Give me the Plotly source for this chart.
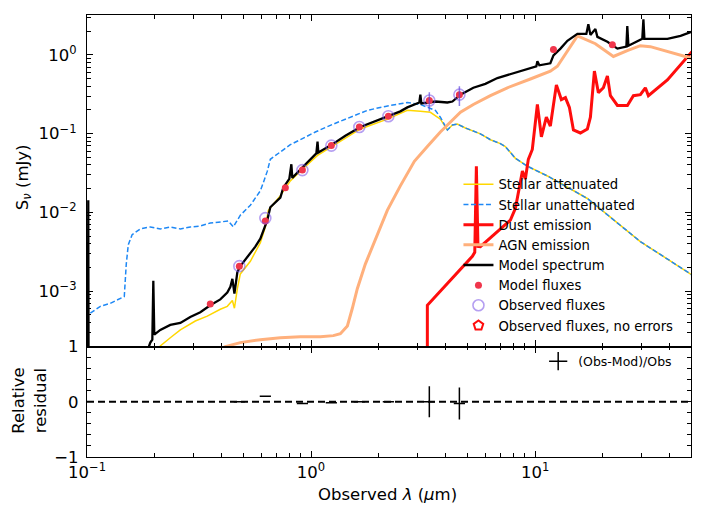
import plotly.graph_objects as go
from plotly.subplots import make_subplots

# ---------------- data (wavelength in micron, flux in mJy) ----------------
lam_unatt = [0.1035, 0.1147, 0.127, 0.138, 0.1467, 0.1497, 0.1529, 0.159, 0.173, 0.1917,
             0.2124, 0.2354, 0.261, 0.289, 0.3205, 0.355, 0.3936, 0.4273, 0.450, 0.4835,
             0.536, 0.594, 0.612, 0.638, 0.658, 0.7295, 0.8083, 0.896, 1.045, 1.258,
             1.497, 1.784, 2.146, 2.691, 3.076, 3.589, 3.778, 4.06, 4.276, 4.499,
             4.886, 5.70, 6.32, 7.0, 7.37, 8.17, 9.24, 11.35, 17.12, 29.5, 52.0]
f_unatt = [5.24e-4, 6.39e-4, 6.97e-4, 7.82e-4, 8.53e-4, 2.20e-3, 3.89e-3, 5.19e-3, 6.16e-3, 6.52e-3,
           6.16e-3, 6.52e-3, 6.16e-3, 6.52e-3, 6.71e-3, 7.31e-3, 7.53e-3, 7.75e-3, 6.52e-3, 9.2e-3,
           1.23e-2, 1.88e-2, 2.37e-2, 3.34e-2, 4.72e-2, 5.93e-2, 7.26e-2, 8.38e-2, 0.105, 0.1324,
           0.1618, 0.1977, 0.222, 0.249, 0.235, 0.1977, 0.1618, 0.1115, 0.1288, 0.1324,
           0.118, 0.0995, 0.0838, 0.0747, 0.0685, 0.0486, 0.0386, 0.029, 0.015, 4.25e-3, 1.5e-3]

lam_att = [0.205, 0.2124, 0.2354, 0.261, 0.3044, 0.3443, 0.3936, 0.4228, 0.4456, 0.455,
           0.469, 0.4835, 0.536, 0.594, 0.625, 0.645, 0.7295, 0.8083, 0.926, 1.069,
           1.258, 1.66, 2.19, 2.691, 3.076, 3.41, 3.778, 4.06, 4.276, 4.499,
           4.886, 5.70, 6.32, 7.0, 7.37, 8.17, 9.24, 11.35, 17.12, 29.5, 52.0]
f_att = [1.6e-4, 2.0e-4, 2.55e-4, 3.21e-4, 4.16e-4, 4.80e-4, 5.86e-4, 6.39e-4, 7.59e-4, 6.04e-4,
         1.07e-3, 1.65e-3, 2.39e-3, 4.12e-3, 6.52e-3, 1.06e-2, 1.63e-2, 2.51e-2, 3.65e-2, 5.30e-2,
         7.05e-2, 0.1148, 0.1528, 0.1977, 0.192, 0.187, 0.1528, 0.1115, 0.1288, 0.1324,
         0.118, 0.0995, 0.0838, 0.0747, 0.0685, 0.0486, 0.0386, 0.029, 0.015, 4.25e-3, 1.5e-3]

lam_dust = [3.305, 3.305, 5.25, 5.38, 5.47, 5.56, 5.70, 7.76, 8.17, 8.42,
            8.78, 9.05, 9.33, 9.72, 10.24, 10.67, 11.23, 11.7, 12.45, 13.1,
            13.66, 14.23, 14.83, 15.93, 17.12, 17.66, 18.40, 19.17, 20.18, 21.03,
            21.69, 23.31, 25.83, 27.47, 29.52, 31.07, 32.05, 38.96, 52.0]
f_dust = [1.66e-4, 6.58e-4, 2.76e-3, 3.10e-3, 3.86e-2, 3.7e-3, 3.67e-3, 7.97e-3, 1.125e-2, 1.78e-2,
          3.34e-2, 2.66e-2, 4.72e-2, 6.29e-2, 0.235, 0.0912, 0.162, 0.125, 0.417, 0.271,
          0.287, 0.216, 0.1115, 0.102, 0.1148, 0.162, 0.623, 0.332, 0.383, 0.540,
          0.304, 0.2285, 0.2285, 0.304, 0.313, 0.383, 0.304, 0.481, 1.24]

lam_agn = [0.375, 0.4145, 0.4835, 0.594, 0.7295, 0.896, 1.10, 1.258, 1.352, 1.453,
           1.529, 1.609, 1.747, 1.897, 2.19, 2.504, 2.892, 3.305, 3.778, 4.645,
           5.303, 6.32, 7.52, 9.53, 11.7, 12.58, 13.93, 15.45, 18.59, 22.37,
           25.8, 29.5, 32.7, 52.0]
f_agn = [1.7e-4, 1.97e-4, 2.21e-4, 2.41e-4, 2.55e-4, 2.63e-4, 2.63e-4, 2.71e-4, 2.87e-4, 3.6e-4,
         6.04e-4, 1.07e-3, 2.2e-3, 3.89e-3, 1.06e-2, 2.17e-2, 4.45e-2, 0.0685, 0.105, 0.187,
         0.235, 0.304, 0.383, 0.495, 0.623, 0.719, 1.138, 1.75, 1.39, 0.958,
         1.138, 1.313, 1.276, 0.88]

lam_model = [0.1008, 0.1013, 0.1018, 0.18, 0.1824, 0.1917, 0.1957, 0.1977, 0.1997, 0.2124,
             0.2354, 0.261, 0.289, 0.3205, 0.355, 0.3936, 0.4228, 0.4365, 0.4456, 0.455,
             0.469, 0.4835, 0.5195, 0.564, 0.594, 0.6188, 0.638, 0.658, 0.693, 0.7295,
             0.752, 0.800, 0.817, 0.825, 0.926, 1.056, 1.069, 1.078, 1.258, 1.423,
             1.66, 1.937, 2.19, 2.504, 2.691, 3.044, 3.076, 3.108, 3.589, 4.06,
             4.276, 4.645, 5.303, 6.0, 6.79, 7.76, 8.6, 10.13, 10.24, 10.45,
             11.7, 12.08, 12.98, 13.94, 15.45, 16.94, 17.29, 17.66, 18.59, 18.97,
             21.03, 23.31, 25.56, 25.8, 26.1, 30.1, 30.45, 30.76, 38.97, 44.6, 52.0]
f_model = [1e-5, 1.42e-2, 1e-5, 1e-5, 1.5e-4, 2.21e-4, 2.41e-4, 1.35e-3, 2.79e-4, 3.21e-4,
           3.71e-4, 3.93e-4, 4.67e-4, 5.38e-4, 6.58e-4, 7.82e-4, 9.55e-4, 1.13e-3, 1.43e-3, 9.29e-4,
           1.74e-3, 2.07e-3, 2.68e-3, 3.67e-3, 4.62e-3, 6.52e-3, 7.97e-3, 1.16e-2, 1.34e-2, 1.54e-2,
           2.06e-2, 2.66e-2, 4.09e-2, 2.74e-2, 3.86e-2, 0.0561, 0.079, 0.0577, 0.0747, 0.094,
           0.1216, 0.1443, 0.1618, 0.192, 0.2157, 0.249, 0.313, 0.242, 0.256, 0.249,
           0.256, 0.313, 0.383, 0.43, 0.509, 0.572, 0.623, 0.719, 0.83, 0.74,
           0.784, 0.986, 1.205, 1.516, 1.853, 1.853, 2.466, 1.80, 2.138, 1.70,
           1.473, 1.205, 1.276, 2.33, 1.313, 1.605, 2.848, 1.605, 1.605, 1.75, 2.05]

lam_modflux = [0.355, 0.4786, 0.6252, 0.768, 0.915, 1.232, 1.643, 2.214, 3.373, 4.594, 12.08, 22.13]
f_modflux = [6.83e-4, 2.07e-3, 7.76e-3, 2.06e-2, 3.44e-2, 7.05e-2, 0.1216, 0.1667, 0.264, 0.313, 1.171, 1.35]

lam_obs = [0.4786, 0.6252, 0.915, 1.232, 1.643, 2.214, 3.373, 4.594]
f_obs = [2.07e-3, 8.45e-3, 3.44e-2, 7.05e-2, 0.1216, 0.1667, 0.264, 0.313]
err_obs = [0, 0, 0, 0, 0, 0, 0.072, 0.088]

residual = [0.0, 0.1, -0.03, -0.02, 0.0, 0.0, 0.0, -0.03]
err_res = [0, 0, 0, 0, 0, 0, 0.28, 0.29]

x_tickvals = [0.1, 1, 10]
x_ticktext = ["10<sup>\u22121</sup>", "10<sup>0</sup>", "10<sup>1</sup>"]
x_minor = [0.2, 0.3, 0.4, 0.5, 0.6, 0.7, 0.8, 0.9, 2, 3, 4, 5, 6, 7, 8, 9, 20, 30, 40]
y_tickvals = [1e-3, 1e-2, 1e-1, 1]
y_ticktext = ["10<sup>\u22123</sup>", "10<sup>\u22122</sup>", "10<sup>\u22121</sup>", "10<sup>0</sup>"]
y_minor = [m * 10.0 ** e for e in (-4, -3, -2, -1, 0) for m in range(2, 10)]

FONT = "DejaVu Sans"

fig = make_subplots(rows=2, cols=1, shared_xaxes=True, vertical_spacing=0,
                    row_heights=[0.75, 0.25])

fig.add_trace(go.Scatter(x=lam_att, y=f_att, mode="lines", name="Stellar attenuated",
                         line=dict(color="#ffd700", width=1.5)), row=1, col=1)
fig.add_trace(go.Scatter(x=lam_unatt, y=f_unatt, mode="lines", name="Stellar unattenuated",
                         line=dict(color="#1e88f5", width=1.5, dash="5px,2.5px")), row=1, col=1)
fig.add_trace(go.Scatter(x=lam_dust, y=f_dust, mode="lines", name="Dust emission",
                         line=dict(color="#ff0d0d", width=3)), row=1, col=1)
fig.add_trace(go.Scatter(x=lam_agn, y=f_agn, mode="lines", name="AGN emission",
                         line=dict(color="#ffb07c", width=3)), row=1, col=1)
fig.add_trace(go.Scatter(x=lam_model, y=f_model, mode="lines", name="Model spectrum",
                         line=dict(color="black", width=2.3)), row=1, col=1)
fig.add_trace(go.Scatter(x=lam_modflux, y=f_modflux, mode="markers", name="Model fluxes",
                         marker=dict(color="#f0364c", size=7)), row=1, col=1)
fig.add_trace(go.Scatter(x=lam_obs, y=f_obs, mode="markers", name="Observed fluxes",
                         marker=dict(symbol="circle-open", color="rgba(120,80,230,0.55)", size=11,
                                     line=dict(width=1.6, color="rgba(120,80,230,0.55)")),
                         error_y=dict(type="data", array=err_obs, color="rgba(90,70,220,0.7)",
                                      thickness=1.5, width=0)), row=1, col=1)
fig.add_trace(go.Scatter(x=[None], y=[None], mode="markers", name="Observed fluxes, no errors",
                         marker=dict(symbol="pentagon-open", color="#ff0d0d", size=10,
                                     line=dict(width=2, color="#ff0d0d"))), row=1, col=1)

# residual panel
fig.add_trace(go.Scatter(x=lam_obs, y=residual, mode="markers", showlegend=False,
                         marker=dict(symbol="line-ew-open", size=8, color="black",
                                     line=dict(width=1.5, color="black")),
                         error_y=dict(type="data", array=err_res, color="black",
                                      thickness=1.5, width=0)), row=2, col=1)
fig.add_trace(go.Scatter(x=[None], y=[None], mode="markers", name="(Obs-Mod)/Obs",
                         legend="legend2",
                         marker=dict(symbol="cross-thin-open", size=13, color="black",
                                     line=dict(width=1.5, color="black"))), row=2, col=1)

fig.add_shape(type="line", xref="x2 domain", yref="y2", x0=0, x1=1, y0=0, y1=0,
              line=dict(color="black", width=2, dash="7px,4px"))

common_axis = dict(showgrid=False, zeroline=False, showline=True, linecolor="black",
                   linewidth=1.3, mirror="allticks", ticks="inside", ticklen=6,
                   tickwidth=1, tickcolor="black",
                   tickfont=dict(family=FONT, size=16.5, color="black"))

fig.update_xaxes(type="log", range=[-1, 1.696], tickvals=x_tickvals, ticktext=x_ticktext,
                 minor=dict(tickvals=x_minor, ticks="inside", ticklen=3.5, tickcolor="black",
                            tickwidth=1, showgrid=False),
                 **common_axis)
fig.update_xaxes(showticklabels=False, row=1, col=1)
fig.update_xaxes(showticklabels=True, row=2, col=1)

fig.update_yaxes(type="log", range=[-3.705, 0.508], tickvals=y_tickvals, ticktext=y_ticktext,
                 minor=dict(tickvals=y_minor, ticks="inside", ticklen=3.5, tickcolor="black",
                            tickwidth=1, showgrid=False),
                 ticklabelstandoff=6,
                 row=1, col=1, **common_axis)
fig.update_yaxes(range=[-1, 1], tickvals=[-1, 0, 1],
                 minor=dict(dtick=0.2, ticks="inside", ticklen=3.5, tickcolor="black",
                            tickwidth=1, showgrid=False),
                 ticklabelstandoff=4,
                 row=2, col=1, **common_axis)

fig.update_layout(
    width=708, height=513,
    margin=dict(l=87, r=17, t=6, b=56),
    paper_bgcolor="white", plot_bgcolor="white",
    font=dict(family=FONT, size=13.4, color="black"),
    legend=dict(x=0.615, y=0.651, xanchor="left", yanchor="top",
                bgcolor="rgba(0,0,0,0)", borderwidth=0,
                font=dict(family=FONT, size=13.2, color="black"), itemwidth=30),
    legend2=dict(x=0.747, y=0.25, xanchor="left", yanchor="top",
                 bgcolor="rgba(0,0,0,0)", borderwidth=0,
                 font=dict(family=FONT, size=12.5, color="black")),
    annotations=[
        dict(text="S<sub><i>\u03bd</i></sub> (mJy)", xref="paper", yref="paper",
             x=-0.105, y=0.632, textangle=-90, showarrow=False,
             xanchor="center", yanchor="middle",
             font=dict(family=FONT, size=16.5, color="black")),
        dict(text="Relative<br>residual", xref="paper", yref="paper",
             x=-0.095, y=0.1286, textangle=-90, showarrow=False,
             xanchor="center", yanchor="middle",
             font=dict(family=FONT, size=16.5, color="black")),
        dict(text="Observed <i>\u03bb</i> (<i>\u03bc</i>m)", xref="paper", yref="paper",
             x=0.498, y=-0.0843, showarrow=False,
             xanchor="center", yanchor="middle",
             font=dict(family=FONT, size=16.5, color="black")),
    ],
)

fig.write_html("out.html", config={"displayModeBar": False},
               post_script="document.body.style.margin='0px';")
